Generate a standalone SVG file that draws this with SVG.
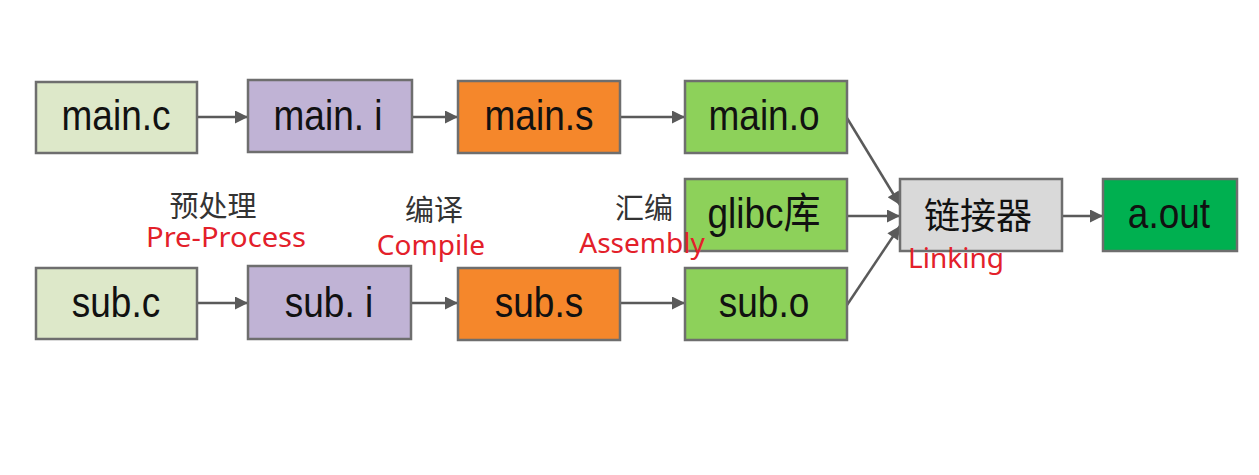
<svg xmlns="http://www.w3.org/2000/svg" width="1259" height="475" viewBox="0 0 1259 475">
<style>
.box{stroke:#6e6e6e;stroke-width:2.5}
.t{font-family:"Liberation Sans",Arial,"Noto Sans CJK SC",sans-serif;font-size:37px;fill:#111;text-anchor:middle}
.cn{font-family:"Noto Sans CJK SC",sans-serif;font-size:29px;fill:#333;text-anchor:middle}
.en{font-family:"Noto Sans","Open Sans",sans-serif;font-size:28px;fill:#e3202a;text-anchor:middle}
.c{stroke:#5a5a5a;stroke-width:2.5;fill:none;marker-end:url(#ah)}
</style>
<defs>
<marker id="ah" viewBox="0 0 10 10" refX="10" refY="5" markerUnits="userSpaceOnUse" markerWidth="15" markerHeight="13" orient="auto">
<path d="M0,0 L10,5 L0,10 z" fill="#5a5a5a"/>
</marker>
</defs>
<rect width="1259" height="475" fill="#fff"/>
<g id="connectors">
<line class="c" x1="197" y1="117" x2="248" y2="117"/>
<line class="c" x1="412" y1="117" x2="458" y2="117"/>
<line class="c" x1="620" y1="117" x2="685" y2="117"/>
<line class="c" x1="847" y1="118" x2="900" y2="205"/>
<line class="c" x1="847" y1="216" x2="900" y2="216"/>
<line class="c" x1="847" y1="305" x2="900" y2="226"/>
<line class="c" x1="1062" y1="216" x2="1103" y2="216"/>
<line class="c" x1="197" y1="303" x2="248" y2="303"/>
<line class="c" x1="411" y1="303" x2="458" y2="303"/>
<line class="c" x1="620" y1="303" x2="685" y2="303"/>
</g>
<g id="main_c"><rect class="box" x="36" y="82" width="161" height="71" fill="#dde8c9"/><text class="t" transform="translate(116,130) scale(1,1.15)">main.c</text></g>
<g id="main_i"><rect class="box" x="248" y="80" width="164" height="72" fill="#c0b3d5"/><text class="t" transform="translate(328,130) scale(1,1.15)">main. i</text></g>
<g id="main_s"><rect class="box" x="458" y="81" width="162" height="72" fill="#f5872b"/><text class="t" transform="translate(539,130) scale(1,1.15)">main.s</text></g>
<g id="main_o"><rect class="box" x="685" y="81" width="162" height="72" fill="#8dd15a"/><text class="t" transform="translate(764,130) scale(1,1.15)">main.o</text></g>
<g id="glibc"><rect class="box" x="685" y="179" width="162" height="72" fill="#8dd15a"/><text class="t" transform="translate(764,228) scale(1,1.15)">glibc库</text></g>
<g id="linker"><rect class="box" x="900" y="179" width="162" height="72" fill="#d9d9d9"/><text class="t" x="978" y="229" style="font-family:'Noto Sans CJK SC',sans-serif;font-size:36px">链接器</text></g>
<g id="a_out"><rect class="box" x="1103" y="179" width="134" height="72" fill="#00b050"/><text class="t" transform="translate(1169,228) scale(1,1.15)">a.out</text></g>
<g id="sub_c"><rect class="box" x="36" y="268" width="161" height="71" fill="#dde8c9"/><text class="t" transform="translate(116,317) scale(1,1.15)">sub.c</text></g>
<g id="sub_i"><rect class="box" x="248" y="266" width="163" height="73" fill="#c0b3d5"/><text class="t" transform="translate(329,317) scale(1,1.15)">sub. i</text></g>
<g id="sub_s"><rect class="box" x="458" y="268" width="162" height="72" fill="#f5872b"/><text class="t" transform="translate(539,317) scale(1,1.15)">sub.s</text></g>
<g id="sub_o"><rect class="box" x="685" y="268" width="162" height="72" fill="#8dd15a"/><text class="t" transform="translate(764,317) scale(1,1.15)">sub.o</text></g>
<g id="labels">
<text class="cn" x="213" y="217">预处理</text>
<text class="en" x="226" y="247" textLength="160" lengthAdjust="spacingAndGlyphs">Pre-Process</text>
<text class="cn" x="434" y="221">编译</text>
<text class="en" x="431" y="255">Compile</text>
<text class="cn" x="644" y="219">汇编</text>
<text class="en" x="642" y="253">Assembly</text>
<text class="en" x="956" y="268">Linking</text>
</g>
</svg>
